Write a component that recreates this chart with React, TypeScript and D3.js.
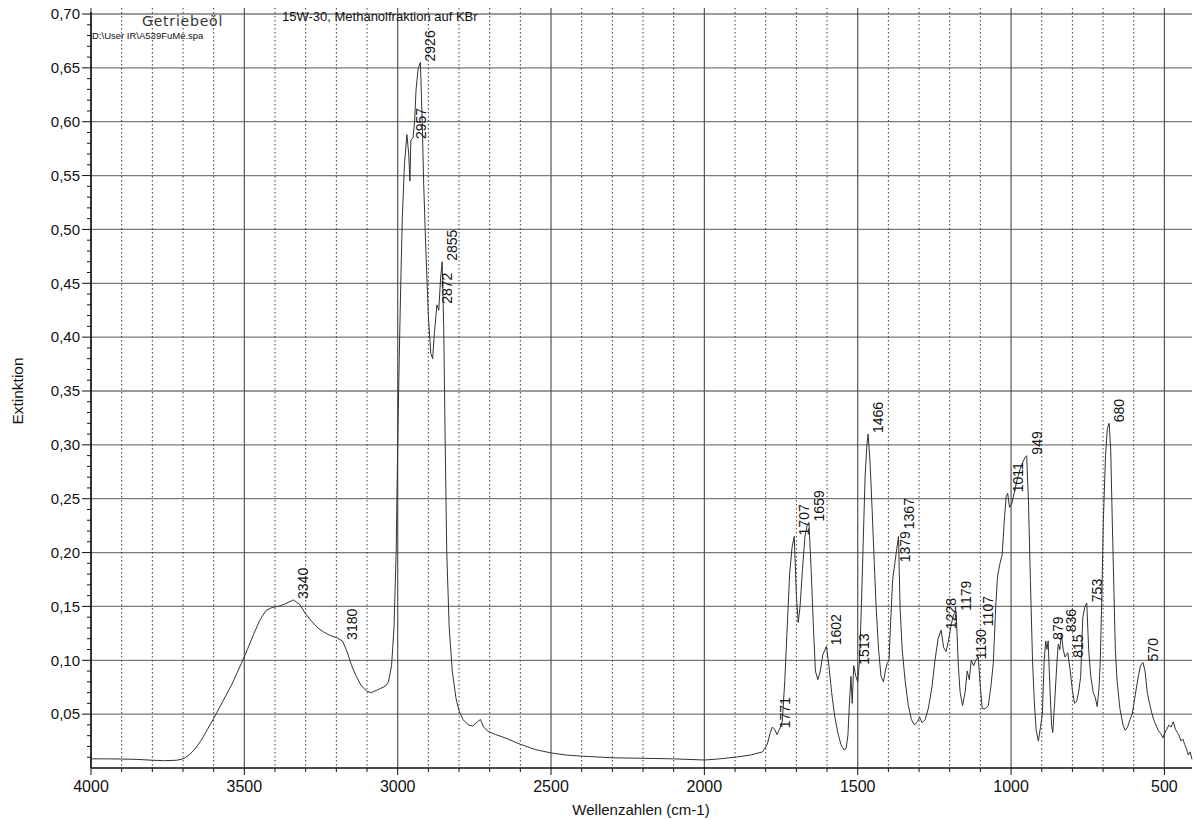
import { scaleLinear, line, range } from "d3";

// IR spectrum
const wavenumbers = [
  4000, 3950, 3900, 3850, 3800, 3760, 3720, 3700, 3680, 3660, 3640, 3620, 3600, 3570, 3540,
  3510, 3490, 3470, 3450, 3430, 3410, 3390, 3370, 3340, 3320, 3300, 3280, 3260, 3240, 3220,
  3200, 3180, 3165, 3150, 3135, 3120, 3100, 3085, 3070, 3055, 3040, 3030, 3020, 3012, 3005,
  3000, 2995, 2990, 2985, 2978, 2970, 2964, 2960, 2957, 2950, 2945, 2940, 2933, 2926, 2920,
  2915, 2908, 2900, 2892, 2886, 2880, 2872, 2866, 2860, 2855, 2850, 2845, 2840, 2832, 2822,
  2810, 2800, 2787, 2770, 2755, 2740, 2730, 2720, 2705, 2680, 2650, 2600, 2550, 2500, 2450,
  2400, 2300, 2200, 2100, 2000, 1950, 1900, 1850, 1810, 1795, 1785, 1778, 1771, 1763, 1755,
  1746, 1738, 1730, 1722, 1714, 1707, 1700, 1694, 1688, 1680, 1672, 1665, 1659, 1652, 1645,
  1638, 1630, 1622, 1614, 1602, 1594, 1585, 1575, 1565, 1555, 1545, 1538, 1532, 1527, 1522,
  1518, 1513, 1506, 1500, 1494, 1488, 1482, 1476, 1470, 1466, 1460, 1453, 1446, 1440, 1432,
  1424, 1416, 1410, 1404, 1398, 1392, 1386, 1379, 1372, 1367, 1362, 1355, 1345, 1335, 1325,
  1315, 1305, 1298, 1290, 1280, 1270, 1258, 1248, 1238, 1228, 1220, 1212, 1204, 1196, 1188,
  1179, 1172, 1166, 1158, 1150, 1143, 1136, 1130, 1122, 1115, 1107, 1100, 1094, 1085, 1074,
  1066, 1058, 1050, 1044, 1036, 1029, 1022, 1016, 1011, 1005, 998, 990, 980, 970, 960,
  955, 949, 943, 937, 930, 924, 918, 911, 904, 898, 892, 887, 883, 879, 874,
  868, 864, 858, 850, 846, 841, 836, 830, 824, 815, 807, 800, 793, 786, 780,
  773, 766, 759, 753, 747, 740, 732, 725, 719, 713, 709, 704, 699, 692, 686,
  680, 675, 670, 665, 660, 654, 645, 635, 628, 620, 612, 605, 595, 585, 578,
  570, 563, 556, 550, 542, 535, 528, 520, 512, 505, 498, 492, 485, 478, 471,
  464, 458, 452, 446, 440, 434, 428, 422, 416, 410,
];

const absorbance = [
  0.0085, 0.0085, 0.0083, 0.008, 0.0072, 0.0068, 0.0072, 0.0085, 0.012, 0.018, 0.026, 0.036, 0.046, 0.062, 0.078,
  0.097, 0.11, 0.124, 0.137, 0.146, 0.149, 0.15, 0.152, 0.156, 0.152, 0.143, 0.136, 0.13, 0.126, 0.123,
  0.121, 0.118, 0.108, 0.095, 0.085, 0.077, 0.071, 0.07, 0.072, 0.074, 0.076, 0.08, 0.095, 0.13, 0.2,
  0.3, 0.38, 0.45, 0.51, 0.56, 0.588, 0.57, 0.545, 0.583, 0.585, 0.6, 0.63, 0.65, 0.655, 0.6,
  0.54, 0.48, 0.42, 0.385, 0.38, 0.405, 0.43, 0.425, 0.455, 0.47, 0.41, 0.3, 0.2, 0.13, 0.09,
  0.065, 0.053, 0.045, 0.04, 0.039, 0.043, 0.045, 0.038, 0.034, 0.031, 0.028, 0.022, 0.017, 0.014, 0.012,
  0.011, 0.0095, 0.009, 0.0085, 0.0074, 0.0085, 0.01, 0.012, 0.015, 0.022, 0.033, 0.038, 0.036, 0.031, 0.036,
  0.043, 0.08, 0.13, 0.18, 0.205, 0.215, 0.16, 0.135, 0.15, 0.185, 0.215, 0.225, 0.228, 0.185, 0.135,
  0.09, 0.082, 0.09, 0.105, 0.113, 0.095, 0.07, 0.048, 0.033, 0.022, 0.017, 0.018, 0.03, 0.06, 0.085,
  0.06, 0.095, 0.085, 0.08, 0.1, 0.15, 0.21, 0.27, 0.3, 0.31, 0.285, 0.24, 0.19, 0.15, 0.11,
  0.085, 0.08, 0.09, 0.097, 0.1, 0.14, 0.175, 0.19, 0.205, 0.215, 0.15, 0.11, 0.08, 0.058, 0.045,
  0.04, 0.043, 0.047, 0.042, 0.045, 0.055, 0.075, 0.1, 0.12, 0.128, 0.112, 0.108, 0.118, 0.132, 0.142,
  0.145, 0.095, 0.07, 0.058, 0.07, 0.09, 0.082, 0.1, 0.095, 0.1, 0.103, 0.075, 0.055, 0.055, 0.058,
  0.075, 0.097, 0.15, 0.178, 0.19, 0.198, 0.23, 0.252, 0.255, 0.242, 0.245, 0.255, 0.268, 0.278, 0.285,
  0.288, 0.29, 0.245, 0.175, 0.1, 0.06, 0.035, 0.025, 0.038, 0.05, 0.1, 0.118, 0.11, 0.118, 0.08,
  0.04, 0.033, 0.06, 0.1, 0.115, 0.11, 0.125, 0.11, 0.103, 0.107, 0.09, 0.072, 0.06, 0.062, 0.07,
  0.085, 0.14, 0.15, 0.153, 0.11, 0.085, 0.07, 0.065, 0.057, 0.075, 0.1, 0.16, 0.23, 0.29, 0.315,
  0.32, 0.295, 0.23, 0.17, 0.11, 0.08, 0.055, 0.04, 0.035, 0.038, 0.045, 0.05, 0.068, 0.085, 0.095,
  0.098, 0.09, 0.07, 0.062, 0.052, 0.045, 0.04, 0.035, 0.032, 0.028, 0.033, 0.036, 0.04, 0.038, 0.043,
  0.036, 0.033, 0.03, 0.025, 0.027, 0.022, 0.018, 0.012, 0.015, 0.008,
];

const peakLabels = [
  3340, 3180, 2957, 2926, 2872, 2855, 1771, 1707, 1659, 1602, 1513, 1466, 1379, 1367, 1228,
  1179, 1130, 1107, 1011, 949, 879, 836, 815, 753, 680, 570,
];

const yTicks = [0.05, 0.1, 0.15, 0.2, 0.25, 0.3, 0.35, 0.4, 0.45, 0.5, 0.55, 0.6, 0.65, 0.7];
const xTicks = [4000, 3500, 3000, 2500, 2000, 1500, 1000, 500];

const width = 1195;
const height = 820;
const plotLeft = 91;
const plotRight = 1192;
const plotTop = 14;
const plotBottom = 768;
const font = "'Liberation Sans', Arial, sans-serif";
const labelSize = 14;

export default function App() {
  const x = scaleLinear().domain([4000, 410]).range([plotLeft, plotRight]);
  const y = scaleLinear().domain([0, 0.7]).range([plotBottom, plotTop]);

  const pts = wavenumbers.map((w, i) => [w, absorbance[i]] as [number, number]);
  const path = line<[number, number]>()
    .x((d) => x(d[0]))
    .y((d) => y(d[1]))(pts);

  const minorX = range(4000, 400, -100).filter((v) => v % 500 !== 0);
  const minorY = range(1, 70).filter((v) => v % 5 !== 0).map((v) => v / 100);

  // place peak labels, nudging ones that would overlap the previous one
  const placed: { w: number; px: number; bottom: number; top: number }[] = [];
  peakLabels.forEach((w) => {
    const i = wavenumbers.indexOf(w);
    const px = x(w);
    const len = String(w).length * labelSize * 0.556;
    let bottom = y(absorbance[i]) - 1;
    const prev = placed[placed.length - 1];
    if (prev && Math.abs(px - prev.px) < 12 && bottom > prev.top && bottom - len < prev.bottom) {
      bottom = bottom < prev.bottom ? prev.top - 2 : prev.bottom + len + 2;
    }
    placed.push({ w, px, bottom, top: bottom - len });
  });

  return (
    <svg
      width={width}
      height={height}
      style={{ position: "absolute", left: 0, top: 0, background: "#fff" }}
    >
      {/* horizontal grid */}
      {yTicks.map((t) => (
        <line
          key={"h" + t}
          x1={plotLeft}
          x2={plotRight}
          y1={y(t)}
          y2={y(t)}
          stroke="#7a7a7a"
          strokeWidth={1.3}
        />
      ))}
      {/* vertical dotted minor grid */}
      {minorX.map((v) => (
        <line
          key={"mv" + v}
          x1={x(v)}
          x2={x(v)}
          y1={8}
          y2={plotBottom}
          stroke="#222"
          strokeWidth={0.9}
          strokeDasharray="1.5,2.5"
        />
      ))}
      {/* vertical solid major grid */}
      {xTicks.map((v) => (
        <line
          key={"v" + v}
          x1={x(v)}
          x2={x(v)}
          y1={8}
          y2={plotBottom}
          stroke="#555"
          strokeWidth={1.2}
        />
      ))}

      {/* axes */}
      <line x1={plotLeft} x2={plotLeft} y1={plotTop - 2} y2={plotBottom} stroke="#111" strokeWidth={1.5} />
      <line x1={plotLeft} x2={plotRight} y1={plotBottom} y2={plotBottom} stroke="#111" strokeWidth={1.5} />
      {yTicks.map((t) => (
        <g key={"yt" + t}>
          <line x1={plotLeft - 9} x2={plotLeft} y1={y(t)} y2={y(t)} stroke="#111" />
          <text
            x={plotLeft - 11}
            y={y(t)}
            dy="0.35em"
            textAnchor="end"
            fontFamily={font}
            fontSize={15}
            fill="#111"
          >
            {t.toFixed(2).replace(".", ",")}
          </text>
        </g>
      ))}
      {minorY.map((t) => (
        <line key={"my" + t} x1={plotLeft - 4} x2={plotLeft} y1={y(t)} y2={y(t)} stroke="#111" />
      ))}
      {xTicks.map((v) => (
        <g key={"xt" + v}>
          <line x1={x(v)} x2={x(v)} y1={plotBottom} y2={plotBottom + 7} stroke="#111" />
          <text
            x={x(v)}
            y={792}
            textAnchor="middle"
            fontFamily={font}
            fontSize={16}
            fill="#111"
          >
            {v}
          </text>
        </g>
      ))}
      {minorX.map((v) => (
        <line key={"mx" + v} x1={x(v)} x2={x(v)} y1={plotBottom} y2={plotBottom + 4} stroke="#111" />
      ))}

      {/* spectrum */}
      <path d={path ?? ""} fill="none" stroke="#333" strokeWidth={1} />

      {/* peak labels */}
      {placed.map((p) => (
        <text
          key={"p" + p.w}
          transform={`translate(${p.px + 15},${p.bottom}) rotate(-90)`}
          fontFamily={font}
          fontSize={labelSize}
          fill="#111"
        >
          {p.w}
        </text>
      ))}

      {/* titles */}
      <text
        transform={`translate(23,${(plotTop + plotBottom) / 2}) rotate(-90)`}
        textAnchor="middle"
        fontFamily={font}
        fontSize={15.5}
        fill="#111"
      >
        Extinktion
      </text>
      <text x={641} y={815} textAnchor="middle" fontFamily={font} fontSize={15} fill="#111">
        Wellenzahlen (cm-1)
      </text>
      <text x={142} y={26} fontFamily="'DejaVu Sans', sans-serif" fontSize={14} letterSpacing={0.8} fill="#333">
        Getriebeöl
      </text>
      <text x={92} y={39} fontFamily={font} fontSize={9.5} fill="#111">
        D:\User IR\A539FuMe.spa
      </text>
      <text x={282} y={21} fontFamily={font} fontSize={13} fill="#111">
        15W-30, Methanolfraktion auf KBr
      </text>
    </svg>
  );
}
